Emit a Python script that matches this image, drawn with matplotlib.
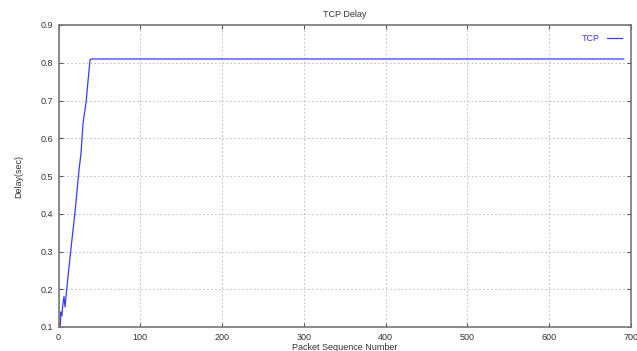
import matplotlib
matplotlib.use("Agg")
from matplotlib import pyplot as plt

# packet sequence number vs delay
packet = [2, 3, 4, 5.5, 6.7, 8, 10, 15, 20, 25, 27.5, 30, 34, 35, 38.5, 40, 691]
delay = [0.10, 0.14, 0.13, 0.162, 0.181, 0.153, 0.20, 0.303, 0.40, 0.515, 0.56, 0.64, 0.70, 0.727, 0.807, 0.81, 0.81]

xticks = [0, 100, 200, 300, 400, 500, 600, 700]
yticks = [0.1, 0.2, 0.3, 0.4, 0.5, 0.6, 0.7, 0.8, 0.9]

plt.rcParams['font.family'] = ['Liberation Sans', 'DejaVu Sans']
plt.rcParams['font.size'] = 6.5

fig = plt.figure(figsize=(6.37, 3.51), dpi=100)
fig.patch.set_facecolor("white")
ax = fig.add_axes([58.5 / 637, 1 - 327 / 351, (631 - 58.5) / 637, (327 - 25) / 351])

ax.plot(packet, delay, color="#3a3aff", linewidth=0.9, label="TCP")

ax.set_xlim(0, 700)
ax.set_ylim(0.1, 0.9)
ax.set_xticks(xticks)
ax.set_yticks(yticks)
ax.set_xticklabels([str(t) for t in xticks])
ax.set_yticklabels(["%.1f" % t for t in yticks])
ax.tick_params(direction="in", length=3, width=0.8, color="#555555",
               top=True, right=True, labelcolor="#333333", pad=4)
for s in ax.spines.values():
    s.set_color("#777777")
    s.set_linewidth(1.2)
ax.grid(True, linestyle=(0, (1.5, 2.5)), color="#bbbbbb", linewidth=0.7)

ax.set_title("TCP Delay", fontsize=6.5, color="#333333", pad=6)
ax.set_xlabel("Packet Sequence Number", color="#333333", labelpad=1)
ax.set_ylabel("Delay(sec)", color="#333333", labelpad=12)

leg = ax.legend(loc="upper right", frameon=False, markerfirst=False,
                handlelength=1.7, handletextpad=0.8, borderaxespad=0.6)
for t in leg.get_texts():
    t.set_color("#3a3aff")

fig.savefig("out.png", dpi=100)
